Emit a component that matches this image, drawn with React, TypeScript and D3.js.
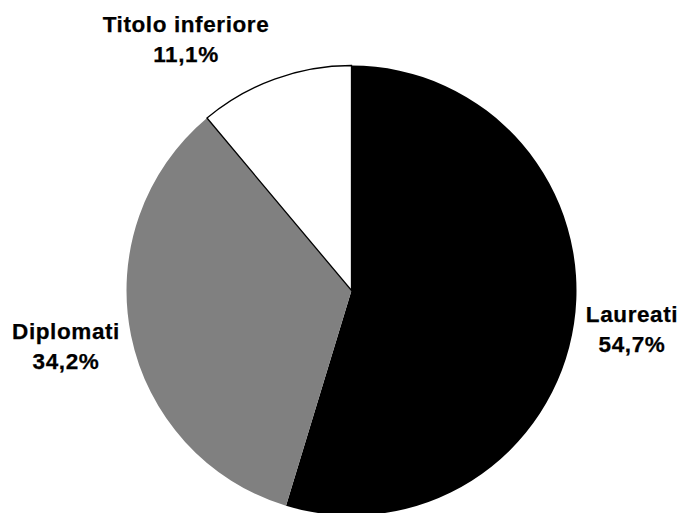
import React from "react";
import * as d3 from "d3";

const categories = ["Laureati", "Diplomati", "Titolo inferiore"];
const values = [54.7, 34.2, 11.1];
const valueLabels = ["54,7%", "34,2%", "11,1%"];
const colors = ["#000000", "#808080", "#ffffff"];
const labelPos = [
  [632, 322],
  [66, 339],
  [186, 32],
];

export default function App() {
  const width = 682;
  const height = 513;
  const cx = 351.5;
  const cy = 290.5;
  const r = 225;
  const pie = d3.pie<number>().sort(null).value((d) => d)(values);
  const arc = d3.arc<d3.PieArcDatum<number>>().innerRadius(0).outerRadius(r);
  return (
    <svg
      width={width}
      height={height}
      style={{ position: "absolute", left: 0, top: 0, background: "#fff" }}
      fontFamily="Liberation Sans, Arial, sans-serif"
    >
      <g transform={`translate(${cx},${cy})`}>
        {pie.map((p, i) => (
          <path
            key={i}
            d={arc(p) || ""}
            fill={colors[i]}
            stroke={i === 2 ? "#000" : "none"}
            strokeWidth={1.3}
          />
        ))}
      </g>
      {categories.map((c, i) => (
        <text
          key={c}
          x={labelPos[i][0]}
          y={labelPos[i][1]}
          textAnchor="middle"
          fontSize={22.5}
          fontWeight="bold"
          letterSpacing={0.6}
          fill="#000"
          stroke="#000"
          strokeWidth={0.25}
        >
          <tspan x={labelPos[i][0]}>{c}</tspan>
          <tspan x={labelPos[i][0]} dy={30}>
            {valueLabels[i]}
          </tspan>
        </text>
      ))}
    </svg>
  );
}
